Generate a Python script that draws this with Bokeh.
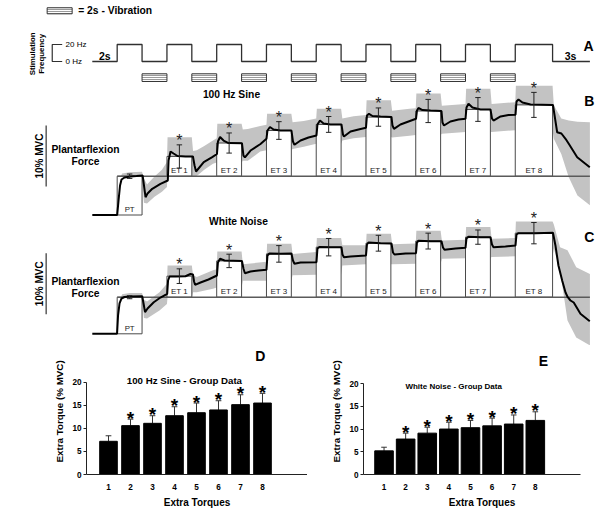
from bokeh.plotting import figure
from bokeh.models import Range1d, Label, FixedTicker
from bokeh.layouts import column, row
from bokeh.embed import file_html
from bokeh.resources import INLINE
from bokeh.core.properties import value

FONT = "Liberation Sans"
BAND = "#c3c3c3"

# ------------------------------------------------------------------ data
# Panel A: stimulation protocol (s, Hz)
stim_t = [0, 2, 4, 6, 8, 10, 12, 14, 16, 18, 20, 22, 24, 26, 28, 30, 32, 34, 37, 40]
stim_hz = [0, 20, 0, 20, 0, 20, 0, 20, 0, 20, 0, 20, 0, 20, 0, 20, 0, 20, 0, 0]
vib_start = [4, 8, 12, 16, 20, 24, 28, 32]
vib_end = [6, 10, 14, 18, 22, 26, 30, 34]

# windows of plateau torque (PT) and extra torques (ET)
pt_window = [2, 4]
et_start = [6, 10, 14, 18, 22, 26, 30, 34]
et_end = [8, 12, 16, 20, 24, 28, 32, 37]
et_labels = ["ET 1", "ET 2", "ET 3", "ET 4", "ET 5", "ET 6", "ET 7", "ET 8"]

# Panel B: 100 Hz sine, mean force trace (s, %MVC)
sine_t = [0, 2.0, 2.11, 2.23, 2.35, 2.59, 3.07, 3.55, 4.04,
          4.08, 4.28, 4.44, 4.82, 5.48, 6.07,
          6.13, 6.29, 6.53, 6.85, 7.49, 8.09,
          8.22, 8.34, 8.96, 9.64, 10.02,
          10.10, 10.27, 10.55, 10.95, 12.03,
          12.15, 12.27, 12.72, 13.52, 14.0,
          14.08, 14.28, 14.57, 15.13, 16.01,
          16.13, 16.25, 16.74, 17.38, 18.02,
          18.10, 18.30, 18.59, 19.15, 20.03,
          20.15, 20.23, 20.76, 21.4, 22.0,
          22.08, 22.24, 22.52, 23.17, 24.05,
          24.13, 24.25, 24.77, 25.42, 26.02,
          26.10, 26.22, 26.54, 27.19, 28.07,
          28.15, 28.27, 28.79, 29.44, 30.0,
          30.08, 30.24, 30.56, 31.21, 32.01,
          32.13, 32.25, 32.82, 33.46, 34.02,
          34.10, 34.26, 34.58, 35.23, 37.03,
          37.37, 37.71, 38.04, 38.3, 38.98, 39.99]
sine_f = [0, 0, 2.38, 4.84, 5.82, 6.15, 6.31, 6.39, 6.48,
          5.98, 2.92, 3.52, 4.30, 5.11, 5.66,
          8.93, 10.41, 10.08, 9.67, 9.59, 9.59,
          8.11, 7.13, 8.66, 9.48, 10.0,
          12.05, 12.79, 12.21, 11.8, 11.77,
          9.75, 9.43, 10.57, 11.64, 12.49,
          13.85, 14.43, 14.02, 13.85, 13.85,
          12.05, 11.51, 12.21, 12.70, 13.03,
          14.84, 15.49, 15.0, 14.84, 14.84,
          13.2, 12.87, 13.69, 14.02, 14.3,
          16.31, 16.59, 16.23, 16.15, 16.07,
          14.67, 14.13, 14.84, 15.33, 15.77,
          17.13, 17.54, 17.21, 17.13, 17.05,
          15.16, 14.67, 15.33, 15.66, 15.77,
          17.62, 18.23, 17.62, 17.30, 17.30,
          15.82, 15.49, 16.15, 16.39, 16.43,
          18.61, 18.93, 18.44, 18.11, 18.03,
          13.57, 13.36, 12.49, 11.67, 9.48, 7.84]
sine_band_t = [1.95, 2.1, 2.4, 3.0, 4.0, 4.15, 4.4, 5.0, 5.6, 6.0, 6.05, 8.0,
               8.1, 8.4, 9.0, 9.7, 10.0, 10.05, 12.0, 12.1, 12.5, 13.5, 14.0, 14.05, 16.0,
               16.1, 17.0, 18.0, 18.05, 20.0, 20.1, 21.0, 22.0, 22.05, 24.0,
               24.1, 25.5, 26.0, 26.05, 28.0, 28.1, 30.0, 30.05, 32.0,
               32.1, 34.0, 34.05, 37.0, 37.1, 37.7, 38.3, 39.0, 40.0]
sine_band_lo = [0, 0.5, 4.8, 5.8, 5.9, 2.0, 1.9, 3.0, 3.8, 4.6, 6.4, 6.4,
                6.3, 6.4, 7.4, 8.4, 8.6, 8.6, 8.6, 8.9, 8.9, 10.4, 10.6, 10.6, 10.6,
                10.8, 11.2, 11.7, 11.7, 11.7, 12.2, 12.6, 12.8, 12.8, 12.8,
                12.7, 13.0, 13.1, 13.1, 13.1, 13.3, 13.6, 13.6, 13.6,
                13.6, 13.9, 13.9, 13.9, 12.5, 10.0, 6.2, 3.2, 1.6]
sine_band_hi = [0.2, 5.5, 6.8, 7.0, 7.1, 6.0, 5.0, 6.3, 7.4, 8.7, 12.75, 12.75,
                10.5, 10.6, 11.3, 12.2, 12.6, 14.95, 14.95, 14.0, 14.1, 14.6, 14.8, 16.6, 16.6,
                15.2, 15.4, 15.8, 17.4, 17.4, 15.8, 16.2, 16.4, 18.8, 18.8,
                17.1, 17.4, 17.5, 19.9, 19.9, 17.9, 18.2, 20.7, 20.7,
                18.2, 18.5, 21.2, 21.2, 18.0, 15.8, 15.5, 15.3, 15.2]
sine_pt_mean, sine_pt_sd = 6.36, 0.36
sine_et_mean = [9.6, 11.8, 13.85, 14.85, 16.05, 17.05, 17.3, 18.05]
sine_et_sd = [1.9, 1.65, 1.45, 1.3, 1.5, 1.9, 1.95, 2.05]

# Panel C: white noise, mean force trace (s, %MVC)
noise_t = [0, 1.99, 2.07, 2.19, 2.35, 2.59, 3.07, 4.01,
           4.12, 4.24, 4.44, 4.94, 5.48, 6.02,
           6.09, 6.21, 6.69, 7.49, 7.89, 8.09,
           8.18, 8.26, 8.7, 9.34, 10.02,
           10.10, 10.27, 10.63, 12.03,
           12.15, 12.27, 12.72, 13.36, 14.0,
           14.08, 14.24, 15.13, 16.01,
           16.13, 16.25, 16.74, 18.02,
           18.10, 18.26, 19.15, 20.03,
           20.11, 20.23, 20.76, 22.0,
           22.08, 22.2, 23.17, 24.05,
           24.17, 24.29, 25.18, 26.02,
           26.10, 26.22, 27.19, 28.07,
           28.19, 28.31, 29.2, 30.0,
           30.08, 30.24, 31.21, 32.01,
           32.13, 32.25, 33.21, 34.02,
           34.10, 34.26, 35.63, 37.03,
           37.23, 37.47, 37.77, 38.04, 38.22, 38.44, 38.7, 39.24, 39.99]
noise_f = [0, 0, 3.0, 4.97, 5.79, 6.03, 6.11, 6.16,
           4.97, 3.54, 4.15, 5.18, 5.95, 6.56,
           8.74, 9.39, 9.39, 9.44, 9.8, 9.72,
           8.57, 8.03, 8.41, 8.9, 9.56,
           11.69, 12.3, 12.02, 11.93,
           10.7, 9.93, 10.21, 10.38, 10.49,
           12.84, 13.16, 13.11, 13.16,
           12.02, 11.48, 11.69, 11.74,
           13.98, 14.23, 14.2, 14.2,
           13.0, 12.56, 12.67, 12.84,
           14.64, 14.97, 14.85, 14.8,
           13.33, 13.0, 13.16, 13.21,
           14.97, 15.25, 15.18, 15.18,
           14.15, 13.77, 13.98, 14.1,
           15.62, 15.9, 15.84, 15.84,
           14.64, 14.2, 14.31, 14.48,
           16.28, 16.49, 16.49, 16.56,
           14.48, 11.2, 8.74, 6.77, 6.0, 5.46, 5.13, 3.28, 2.07]
noise_band_t = [1.95, 2.1, 2.4, 3.0, 4.0, 4.15, 4.4, 5.4, 6.0, 6.05, 8.0,
                8.1, 8.4, 9.7, 10.0, 10.05, 12.0, 12.1, 14.0, 14.05, 16.0,
                16.1, 18.0, 18.05, 20.0, 20.1, 22.0, 22.05, 24.0,
                24.1, 26.0, 26.05, 28.0, 28.1, 30.0, 30.05, 32.0,
                32.1, 34.0, 34.05, 37.0, 37.1, 37.6, 38.2, 38.9, 40.0]
noise_band_lo = [0, 0.5, 4.5, 5.7, 5.7, 2.6, 2.5, 3.8, 4.9, 6.0, 6.0,
                 6.8, 6.8, 7.4, 7.6, 7.6, 7.6, 8.7, 8.7, 8.7, 8.7,
                 9.6, 9.7, 9.7, 9.7, 11.2, 11.4, 11.4, 11.4,
                 11.4, 11.5, 11.5, 11.5, 12.3, 12.4, 12.4, 12.4,
                 12.6, 12.7, 12.7, 12.7, 14.0, 10.4, 2.2, -0.6, -1.9]
noise_band_hi = [0.2, 5.0, 6.5, 6.7, 6.7, 5.6, 5.3, 6.8, 8.2, 11.2, 11.2,
                 9.6, 9.3, 10.4, 10.6, 13.5, 13.5, 11.4, 11.8, 14.75, 14.75,
                 13.1, 13.4, 15.7, 15.7, 14.5, 14.5, 16.4, 16.4,
                 14.7, 14.8, 16.9, 16.9, 15.3, 15.4, 17.5, 17.5,
                 15.6, 15.7, 18.4, 18.4, 17.9, 14.2, 13.7, 10.9, 9.8]
noise_pt_mean, noise_pt_sd = 6.0, 0.25
noise_et_mean = [9.45, 11.95, 13.1, 14.2, 14.85, 15.2, 15.85, 16.5]
noise_et_sd = [1.2, 1.1, 1.36, 1.43, 1.3, 1.3, 1.17, 1.75]

# Panels D and E: group data (% MVC)
extra_torques = ["1", "2", "3", "4", "5", "6", "7", "8"]
sine_group_mean = [7.2, 10.6, 11.1, 12.75, 13.4, 14.0, 15.15, 15.5]
sine_group_sd = [1.2, 1.4, 1.65, 1.95, 2.1, 2.0, 2.15, 2.1]
noise_group_mean = [5.2, 7.8, 9.1, 10.0, 10.3, 10.7, 11.1, 11.9]
noise_group_sd = [0.8, 1.3, 1.3, 1.5, 1.6, 1.7, 2.0, 1.9]
group_sig = [False, True, True, True, True, True, True, True]

for a_, b_ in [(sine_t, sine_f), (noise_t, noise_f), (sine_band_t, sine_band_lo),
               (sine_band_t, sine_band_hi), (noise_band_t, noise_band_lo), (noise_band_t, noise_band_hi)]:
    assert len(a_) == len(b_), (len(a_), len(b_))

# ------------------------------------------------------------------ helpers
PX0, PXS = 91.8, 12.44          # pixel of t = 0 and pixels per second (panels A-C)
FW, TOP_H = 600, 345
T0 = -PX0 / PXS
T1 = (FW - PX0) / PXS


def fs(px):
    return f"{px:.1f}px"


def vrange(zero_px, px_per_unit):
    """A y range for the top figure in which value 0 sits at pixel row zero_px."""
    return Range1d((zero_px - TOP_H) / px_per_unit, zero_px / px_per_unit)


def label(p, x, y, text, size, bold=True, angle=0.0, align="center",
          baseline="middle", color="black", x_off=0, y_off=0, yr="default"):
    p.add_layout(Label(x=x, y=y, text=text, text_font=FONT, text_font_size=fs(size),
                       text_font_style="bold" if bold else "normal", angle=angle,
                       text_align=align, text_baseline=baseline, text_color=color,
                       x_offset=x_off, y_offset=y_off, y_range_name=yr))


# One figure for panels A, B and C, each panel on its own y range
top = figure(width=FW, height=TOP_H, x_range=Range1d(T0, T1), y_range=vrange(214.5, 6.1),
             output_backend="svg", toolbar_location=None,
             x_axis_location=None, y_axis_location=None,
             min_border=0, outline_line_color=None,
             background_fill_color="white", border_fill_color="white")
top.grid.visible = False
top.extra_y_ranges = {"hz": vrange(61, 0.85), "noise": vrange(333.3, 6.1)}

# ------------------------------------------------------------------ panel A
HZ = "hz"
top.quad(left=vib_start, right=vib_end, top=-14.5, bottom=-23.5, fill_color="white",
         line_color="#333333", line_width=1, hatch_pattern="horizontal_line",
         hatch_scale=2, hatch_weight=1, hatch_color="#333333", y_range_name=HZ)
top.step(x=stim_t, y=stim_hz, mode="after", line_color="#303030", line_width=1.3, y_range_name=HZ)
# legend swatch
top.quad(left=[-3.63], right=[-1.62], top=[63.2], bottom=[56.1], fill_color="white",
         line_color="#333333", hatch_pattern="horizontal_line", hatch_scale=2,
         hatch_weight=1, hatch_color="#333333", y_range_name=HZ)
label(top, -1.13, 59.6, "= 2s - Vibration", 10.3, align="left", yr=HZ)
# frequency bracket
top.line(x=[-2.42, -3.22, -3.22, -2.42], y=[20, 20, 0, 0], line_color="#303030",
         line_width=1.2, y_range_name=HZ)
label(top, -2.15, 20, "20 Hz", 8, bold=False, align="left", yr=HZ)
label(top, -2.15, 0, "0 Hz", 8, bold=False, align="left", yr=HZ)
label(top, -4.78, 9.0, "Stimulation", 7.9, angle=1.5708, yr=HZ)
label(top, -4.1, 9.0, "Frequency", 7.9, angle=1.5708, yr=HZ)
label(top, 1.0, 7.0, "2s", 10.5, yr=HZ)
label(top, 38.45, 7.0, "3s", 10.5, yr=HZ)
label(top, 39.9, 18.8, "A", 14, yr=HZ)


# ------------------------------------------------------------------ panels B, C
def trace_panel(p, yr, tr_t, tr_f, bd_t, bd_lo, bd_hi, pt_mean, pt_sd,
                et_mean, et_sd, title, title_xy, letter, letter_xy, mvc_y, plant_y):
    p.varea(x=bd_t, y1=bd_lo, y2=bd_hi, fill_color=BAND, y_range_name=yr)
    # PT and ET boxes
    p.quad(left=[pt_window[0]], right=[pt_window[1]], bottom=[0], top=[pt_mean],
           fill_color="white", line_color="#4a4a4a", line_width=1, y_range_name=yr)
    p.quad(left=et_start, right=et_end, bottom=pt_mean, top=et_mean,
           fill_color="white", line_color="#4a4a4a", line_width=1, y_range_name=yr)
    # reference line at the PT level
    p.segment(x0=[pt_window[0]], x1=[stim_t[-1]], y0=[pt_mean], y1=[pt_mean],
              line_color="#5a5a5a", line_width=1.5, y_range_name=yr)
    # mean trace
    p.line(x=tr_t, y=tr_f, line_color="black", line_width=2, y_range_name=yr)
    # error bars
    cx = [(s + e) / 2 for s, e in zip(et_start, et_end)]
    allx = [(pt_window[0] + pt_window[1]) / 2] + cx
    lo = [pt_mean - pt_sd] + [m - s for m, s in zip(et_mean, et_sd)]
    hi = [pt_mean + pt_sd] + [m + s for m, s in zip(et_mean, et_sd)]
    p.segment(x0=allx, x1=allx, y0=lo, y1=hi, line_color="#222222", line_width=1,
              y_range_name=yr)
    p.segment(x0=[x - 0.22 for x in allx], x1=[x + 0.22 for x in allx], y0=lo, y1=lo,
              line_color="#222222", line_width=1, y_range_name=yr)
    p.segment(x0=[x - 0.22 for x in allx], x1=[x + 0.22 for x in allx], y0=hi, y1=hi,
              line_color="#222222", line_width=1, y_range_name=yr)
    # significance stars
    p.text(x=cx, y=hi[1:], text=["*"] * len(cx), text_font=value(FONT),
           text_font_size=fs(16), text_align="center", text_baseline="alphabetic",
           text_color="#222222", y_offset=-4, y_range_name=yr)
    # labels in the boxes
    p.text(x=cx, y=[pt_mean] * len(cx), text=et_labels, text_font=value(FONT),
           text_font_size=fs(8), text_align="center", text_baseline="bottom",
           text_color="#222222", y_offset=-1, y_range_name=yr)
    p.text(x=[(pt_window[0] + pt_window[1]) / 2], y=[0], text=["PT"], text_font=value(FONT),
           text_font_size=fs(7.8), text_align="center", text_baseline="bottom",
           text_color="#222222", y_offset=-1, y_range_name=yr)
    # 10 % MVC scale bar and labels
    p.segment(x0=[-3.71], x1=[-3.71], y0=[mvc_y - 5], y1=[mvc_y + 5], line_color="#333333",
              line_width=1.2, y_range_name=yr)
    label(p, -4.28, mvc_y, "10% MVC", 10, angle=1.5708, yr=yr)
    label(p, -0.55, plant_y, "Plantarflexion", 10.3, baseline="bottom", y_off=0.5, yr=yr)
    label(p, -0.55, plant_y, "Force", 10.3, baseline="top", y_off=-0.5, yr=yr)
    label(p, title_xy[0], title_xy[1], title, 10.3, yr=yr)
    label(p, letter_xy[0], letter_xy[1], letter, 14, yr=yr)


trace_panel(top, "default", sine_t, sine_f, sine_band_t, sine_band_lo, sine_band_hi,
            sine_pt_mean, sine_pt_sd, sine_et_mean, sine_et_sd,
            "100 Hz Sine", (11.19, 19.75), "B", (39.95, 18.77), 9.67, 9.7)
trace_panel(top, "noise", noise_t, noise_f, noise_band_t, noise_band_lo, noise_band_hi,
            noise_pt_mean, noise_pt_sd, noise_et_mean, noise_et_sd,
            "White Noise", (11.75, 18.41), "C", (39.95, 15.79), 8.2, 7.55)


# ------------------------------------------------------------------ panels D, E
def bar_panel(fig_left, fig_right, frame_left, axis_right, zero_px, px_per_unit, bar_px,
              x_start, means, sds, bar_w, title, title_xy, title_size, letter, letter_xy):
    y0, y1 = TOP_H, 511
    w = fig_right - fig_left
    h = y1 - y0
    mbl = round(frame_left - fig_left)
    mbb = round(y1 - zero_px)
    y_top = (zero_px - y0) / px_per_unit
    x_end = x_start + (fig_right - frame_left) / bar_px
    x_axis_end = x_start + (axis_right - frame_left) / bar_px
    p = figure(width=w, height=h, x_range=Range1d(x_start, x_end), y_range=Range1d(0, y_top),
               output_backend="svg", toolbar_location=None,
               min_border_left=mbl, min_border_right=0, min_border_top=0,
               min_border_bottom=mbb, outline_line_color=None,
               background_fill_color="white", border_fill_color="white")
    p.grid.visible = False
    xs = list(range(1, len(means) + 1))
    tops = [m + s for m, s in zip(means, sds)]
    p.segment(x0=xs, x1=xs, y0=means, y1=tops, line_color="#333333", line_width=1)
    p.segment(x0=[x - 0.13 for x in xs], x1=[x + 0.13 for x in xs], y0=tops, y1=tops,
              line_color="#333333", line_width=1)
    p.vbar(x=xs, top=means, width=bar_w, bottom=0, fill_color="black", line_color="black")
    sx = [x for x, s in zip(xs, group_sig) if s]
    sy = [t for t, s in zip(tops, group_sig) if s]
    p.text(x=sx, y=sy, text=["*"] * len(sx), text_font=value(FONT), text_font_size=fs(19),
           text_font_style="bold", text_align="center", text_baseline="alphabetic",
           y_offset=-1)
    ya = p.yaxis[0]
    ya.ticker = FixedTicker(ticks=[0, 5, 10, 15, 20])
    ya.bounds = (0, 20)
    ya.minor_tick_line_color = None
    ya.major_tick_in = 0
    ya.major_tick_out = 3
    ya.major_label_standoff = 2
    ya.axis_label = "Extra Torque  (% MVC)"
    ya.axis_label_standoff = 4
    xa = p.xaxis[0]
    xa.ticker = FixedTicker(ticks=xs)
    xa.bounds = (x_start, x_axis_end)
    xa.major_label_overrides = {x: lab for x, lab in zip(xs, extra_torques)}
    xa.major_tick_line_color = None
    xa.minor_tick_line_color = None
    xa.major_label_standoff = 3
    xa.axis_label = "Extra Torques"
    xa.axis_label_standoff = 4
    for ax in (xa, ya):
        ax.axis_line_color = "#222222"
        ax.axis_line_width = 1
        ax.major_label_text_font = FONT
        ax.major_label_text_font_style = "bold"
        ax.major_label_text_font_size = fs(8.2)
        ax.major_label_text_color = "black"
        ax.axis_label_text_font = FONT
        ax.axis_label_text_font_style = "bold"
        ax.axis_label_text_color = "black"
    ya.major_tick_line_color = "#222222"
    ya.axis_label_text_font_size = fs(9.8)
    xa.axis_label_text_font_size = fs(10)
    label(p, title_xy[0], title_xy[1], title, title_size)
    label(p, letter_xy[0], letter_xy[1], letter, 14)
    return p


pD = bar_panel(0, 307, 86, 307, 473.7, 4.6, 22.0, 0.0, sine_group_mean, sine_group_sd, 0.8,
               "100 Hz Sine - Group Data", (4.45, 20.37), 9.7, "D", (7.9, 25.8))
pE = bar_panel(307, 600, 362.7, 580, 475.0, 4.58, 21.64, 0.05, noise_group_mean, noise_group_sd,
               0.86, "White Noise - Group Data", (4.22, 19.43), 8.0, "E", (8.37, 24.9))

layout = column(top, row(pD, pE))
open("out.html", "w").write(file_html(layout, INLINE))
